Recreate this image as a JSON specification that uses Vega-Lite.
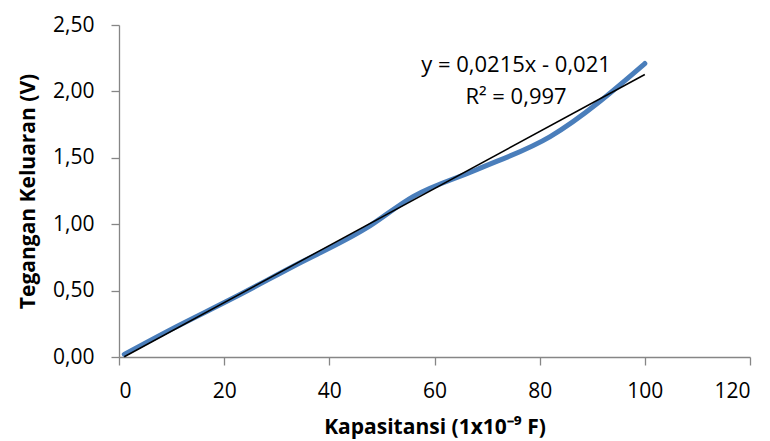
{
  "$schema": "https://vega.github.io/schema/vega-lite/v6.json",
  "width": 631,
  "height": 332,
  "autosize": {"type": "none"},
  "padding": {"left": 119, "top": 25, "right": 20, "bottom": 84},
  "background": "white",
  "config": {
    "view": {"stroke": null},
    "locale": {"number": {"decimal": ",", "thousands": ".", "grouping": [3], "currency": ["", ""]}},
    "font": "Open Sans",
    "axis": {"grid": false, "domainColor": "#868686", "tickColor": "#868686", "labelColor": "#000000", "titleColor": "#000000", "labelFont": "Open Sans", "titleFont": "Open Sans", "labelFontSize": 21, "titleFontSize": 21, "titleFontWeight": "bold", "tickSize": 8, "domainWidth": 1.3, "tickWidth": 1.3}
  },
  "datasets": {
    "pts": [
      {"C": 1, "V": 0.02},
      {"C": 10, "V": 0.21},
      {"C": 22, "V": 0.45},
      {"C": 33, "V": 0.68},
      {"C": 47, "V": 0.97},
      {"C": 56, "V": 1.21},
      {"C": 68, "V": 1.41},
      {"C": 82, "V": 1.66},
      {"C": 100, "V": 2.21}
    ],
    "labels": [
      {"C": 75.5, "V": 2.2, "t": "y = 0,0215x - 0,021"},
      {"C": 75.5, "V": 1.96, "t": "R² = 0,997"}
    ]
  },
  "layer": [
    {
      "data": {"name": "pts"},
      "mark": {"type": "line", "interpolate": "monotone", "color": "#4A7EBB", "strokeWidth": 5, "strokeCap": "round"},
      "encoding": {
        "x": {"field": "C", "type": "quantitative", "scale": {"domain": [0, 120], "nice": false}, "axis": {"values": [0, 20, 40, 60, 80, 100, 120], "title": "Kapasitansi (1x10⁻⁹ F)", "labelPadding": 15, "titlePadding": 15}},
        "y": {"field": "V", "type": "quantitative", "scale": {"domain": [0, 2.5], "nice": false}, "axis": {"values": [0, 0.5, 1, 1.5, 2, 2.5], "format": ".2f", "title": "Tegangan Keluaran (V)", "labelPadding": 17, "titlePadding": 14}}
      }
    },
    {
      "data": {"name": "pts"},
      "transform": [{"regression": "V", "on": "C", "method": "linear"}],
      "mark": {"type": "line", "color": "#000000", "strokeWidth": 1.5},
      "encoding": {
        "x": {"field": "C", "type": "quantitative"},
        "y": {"field": "V", "type": "quantitative"}
      }
    },
    {
      "data": {"name": "labels"},
      "mark": {"type": "text", "fontSize": 22, "font": "Open Sans", "color": "#000000", "align": "center", "baseline": "middle"},
      "encoding": {
        "x": {"field": "C", "type": "quantitative"},
        "y": {"field": "V", "type": "quantitative"},
        "text": {"field": "t"}
      }
    }
  ]
}
